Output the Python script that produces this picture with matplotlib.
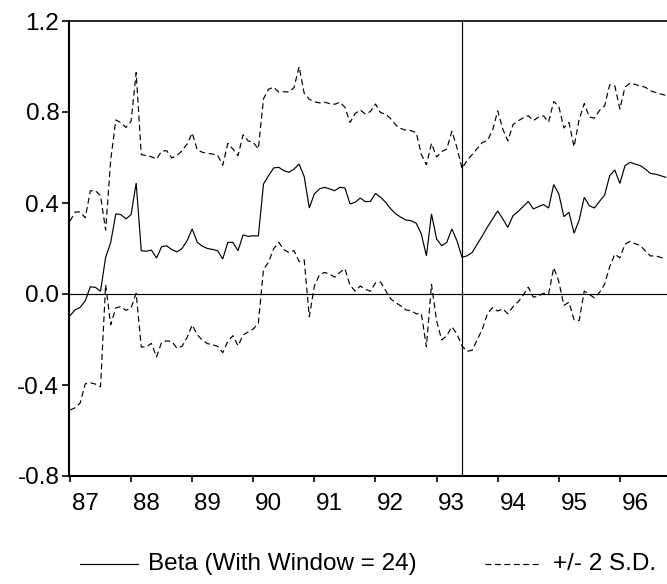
import matplotlib
matplotlib.use("Agg")
import matplotlib.pyplot as plt
from matplotlib.lines import Line2D
import numpy as np

plt.rcParams['font.family'] = ['Liberation Sans', 'DejaVu Sans']

# Monthly rolling beta estimates, 1987:01 onward
beta = [-0.095, -0.070, -0.059, -0.030, 0.032, 0.029, 0.012, 0.161, 0.227, 0.352,
        0.349, 0.330, 0.349, 0.488, 0.190, 0.188, 0.193, 0.158, 0.208, 0.212,
        0.195, 0.185, 0.200, 0.234, 0.286, 0.227, 0.210, 0.200, 0.196, 0.190,
        0.154, 0.227, 0.227, 0.190, 0.260, 0.253, 0.256, 0.255, 0.483, 0.520,
        0.554, 0.557, 0.542, 0.535, 0.549, 0.571, 0.516, 0.378, 0.440, 0.462,
        0.469, 0.462, 0.454, 0.469, 0.466, 0.396, 0.403, 0.422, 0.406, 0.407,
        0.442, 0.425, 0.403, 0.374, 0.352, 0.337, 0.325, 0.322, 0.311, 0.264,
        0.168, 0.352, 0.242, 0.212, 0.227, 0.286, 0.234, 0.161, 0.168, 0.183,
        0.220, 0.256, 0.295, 0.330, 0.365, 0.330, 0.293, 0.344, 0.363, 0.384,
        0.407, 0.374, 0.384, 0.393, 0.378, 0.481, 0.440, 0.340, 0.359, 0.267,
        0.325, 0.425, 0.388, 0.378, 0.407, 0.435, 0.520, 0.545, 0.486, 0.564,
        0.579, 0.571, 0.564, 0.549, 0.530, 0.527, 0.520, 0.513]

# Two standard deviations of each estimate
two_sd = [0.415, 0.430, 0.420, 0.365, 0.422, 0.425, 0.420, 0.120, 0.362, 0.413,
          0.404, 0.402, 0.410, 0.485, 0.423, 0.420, 0.410, 0.435, 0.420, 0.418,
          0.403, 0.423, 0.430, 0.425, 0.422, 0.406, 0.413, 0.418, 0.419, 0.420,
          0.412, 0.435, 0.410, 0.418, 0.440, 0.420, 0.410, 0.383, 0.375, 0.380,
          0.355, 0.330, 0.347, 0.353, 0.358, 0.428, 0.366, 0.478, 0.405, 0.378,
          0.374, 0.375, 0.380, 0.374, 0.355, 0.358, 0.390, 0.387, 0.385, 0.395,
          0.393, 0.372, 0.388, 0.396, 0.390, 0.390, 0.395, 0.396, 0.398, 0.350,
          0.400, 0.310, 0.360, 0.414, 0.410, 0.430, 0.410, 0.390, 0.420, 0.430,
          0.420, 0.410, 0.380, 0.390, 0.440, 0.395, 0.380, 0.400, 0.398, 0.390,
          0.377, 0.388, 0.393, 0.390, 0.378, 0.365, 0.385, 0.390, 0.395, 0.380,
          0.442, 0.412, 0.390, 0.395, 0.400, 0.392, 0.400, 0.370, 0.327, 0.345,
          0.348, 0.350, 0.350, 0.360, 0.363, 0.359, 0.359, 0.360]

start_year = 87
year_ticks = [87, 88, 89, 90, 91, 92, 93, 94, 95, 96]
year_labels = ["87", "88", "89", "90", "91", "92", "93", "94", "95", "96"]
y_ticks = [-0.8, -0.4, 0.0, 0.4, 0.8, 1.2]
y_labels = ["-0.8", "-0.4", "0.0", "0.4", "0.8", "1.2"]
break_date = 93 + 5 / 12

b = np.array(beta)
s = np.array(two_sd)
t = start_year + np.arange(len(b)) / 12.0
upper = b + s
lower = b - s

FS = 17.5
W, H = 667, 584
fig = plt.figure(figsize=(W / 100, H / 100), dpi=100)
ax = fig.add_axes([69 / W, 1 - 476 / H, 1 - 69 / W, (476 - 21) / H])

ax.plot(t, b, color='black', lw=0.85, solid_joinstyle='miter')
ax.plot(t, upper, color='black', lw=0.85, linestyle=(0, (5, 3)))
ax.plot(t, lower, color='black', lw=0.85, linestyle=(0, (5, 3)))
ax.axhline(0.0, color='black', lw=0.85)
ax.axvline(break_date, color='black', lw=0.85)

ax.set_xlim(86.984, 96.771)
ax.set_ylim(-0.8, 1.2)

ax.set_xticks(year_ticks)
ax.set_xticklabels([])
ax.set_xticks([y + 0.25 for y in year_ticks], minor=True)
ax.set_xticklabels(year_labels, minor=True)
ax.tick_params(axis='x', which='major', direction='out', length=4.5, width=1.2)
ax.tick_params(axis='x', which='minor', length=0, pad=12, labelsize=FS)
ax.set_yticks(y_ticks)
ax.set_yticklabels(y_labels)
ax.tick_params(axis='y', direction='out', length=5, width=1.2, pad=2, labelsize=FS)

for side in ['left', 'bottom']:
    ax.spines[side].set_linewidth(1.5)
ax.spines['top'].set_linewidth(1.2)
ax.spines['right'].set_visible(False)

# Legend drawn in figure coordinates
ly = 1 - 564 / H
fig.add_artist(Line2D([80 / W, 138 / W], [ly, ly], color='black', lw=0.85,
                      transform=fig.transFigure))
fig.text(148 / W, ly, "Beta (With Window = 24)", fontsize=FS, va='center', ha='left')
fig.add_artist(Line2D([485 / W, 542 / W], [ly, ly], color='black', lw=0.85,
                      linestyle=(0, (5, 3)), transform=fig.transFigure))
fig.text(553 / W, ly, "+/- 2 S.D.", fontsize=FS, va='center', ha='left')

fig.savefig("out.png", dpi=100)
